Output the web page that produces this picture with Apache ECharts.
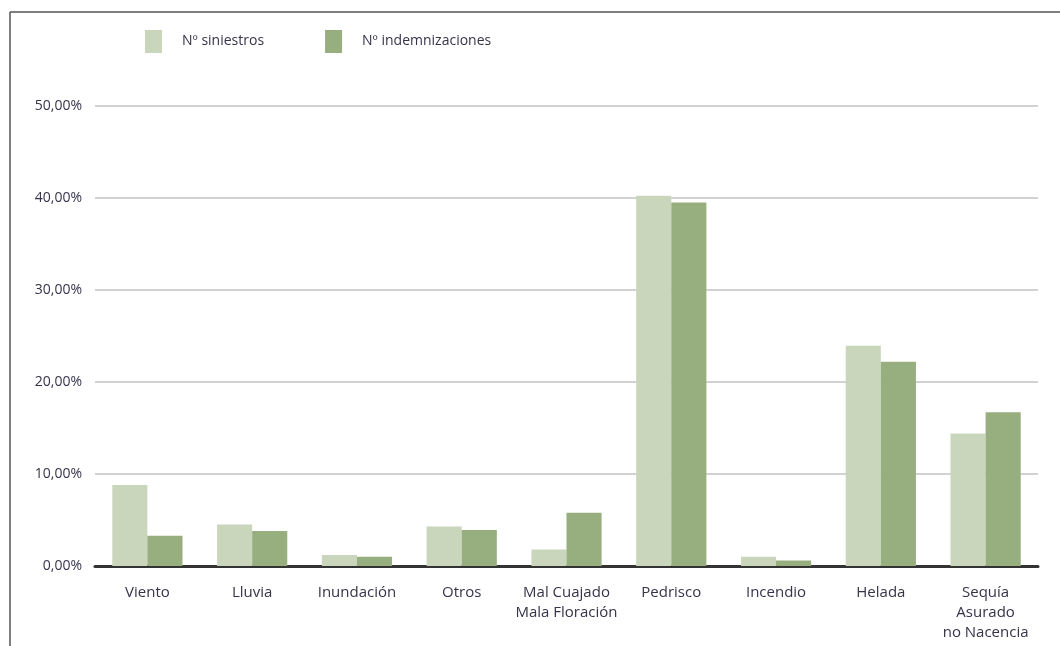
<!DOCTYPE html>
<html>
<head>
<meta charset="utf-8">
<script src="https://cdn.jsdelivr.net/npm/echarts@6/dist/echarts.min.js"></script>
<style>
  html, body { margin: 0; padding: 0; background: #fff; }
  #chart { width: 1060px; height: 646px; }
</style>
</head>
<body>
<div id="chart"></div>
<script>
// Causes of claims: share of claims vs share of indemnities
const categories = ['Viento', 'Lluvia', 'Inundación', 'Otros', 'Mal Cuajado\nMala Floración',
  'Pedrisco', 'Incendio', 'Helada', 'Sequía\nAsurado\nno Nacencia'];
const siniestros = [8.8, 4.5, 1.2, 4.3, 1.8, 40.25, 1.0, 23.95, 14.4];
const indemnizaciones = [3.3, 3.8, 1.0, 3.9, 5.8, 39.5, 0.6, 22.2, 16.7];
const seriesNames = ['Nº siniestros', 'Nº indemnizaciones'];
const colors = ['#c9d6bb', '#97ae7e'];

const textColor = '#35344a';
const font = '"Open Sans", "Noto Sans", sans-serif';

const chart = echarts.init(document.getElementById('chart'), null, { renderer: 'canvas' });
chart.setOption({
  animation: false,
  textStyle: { fontFamily: font },
  graphic: [
    { type: 'line', shape: { x1: 10, y1: 12, x2: 1060, y2: 12 }, style: { stroke: '#555', lineWidth: 1.5 } },
    { type: 'line', shape: { x1: 10, y1: 12, x2: 10, y2: 646 }, style: { stroke: '#555', lineWidth: 1.5 } }
  ],
  legend: {
    data: seriesNames,
    left: 140,
    top: 25,
    itemWidth: 17,
    itemHeight: 23,
    itemGap: 61,
    icon: 'rect',
    textStyle: { color: textColor, fontSize: 14, fontFamily: font, padding: [0, 0, 0, 15] }
  },
  grid: { left: 95, right: 22, top: 106, bottom: 80, containLabel: false },
  xAxis: {
    type: 'category',
    data: categories,
    axisTick: { show: false },
    axisLine: { lineStyle: { color: '#333', width: 3 } },
    axisLabel: { color: textColor, fontSize: 15, margin: 17, lineHeight: 20, interval: 0, fontFamily: font }
  },
  yAxis: {
    type: 'value',
    min: 0,
    max: 50,
    interval: 10,
    axisLine: { show: false },
    axisTick: { show: false },
    splitLine: { lineStyle: { color: '#d2d2d2', width: 2 } },
    axisLabel: {
      color: textColor, fontSize: 14, margin: 13, fontFamily: font,
      formatter: v => v.toFixed(2).replace('.', ',') + '%'
    }
  },
  series: [
    {
      name: seriesNames[0], type: 'bar', data: siniestros,
      itemStyle: { color: colors[0] }, barGap: '0%', barCategoryGap: '33%'
    },
    {
      name: seriesNames[1], type: 'bar', data: indemnizaciones,
      itemStyle: { color: colors[1] }, barGap: '0%', barCategoryGap: '33%'
    }
  ]
});
</script>
</body>
</html>
